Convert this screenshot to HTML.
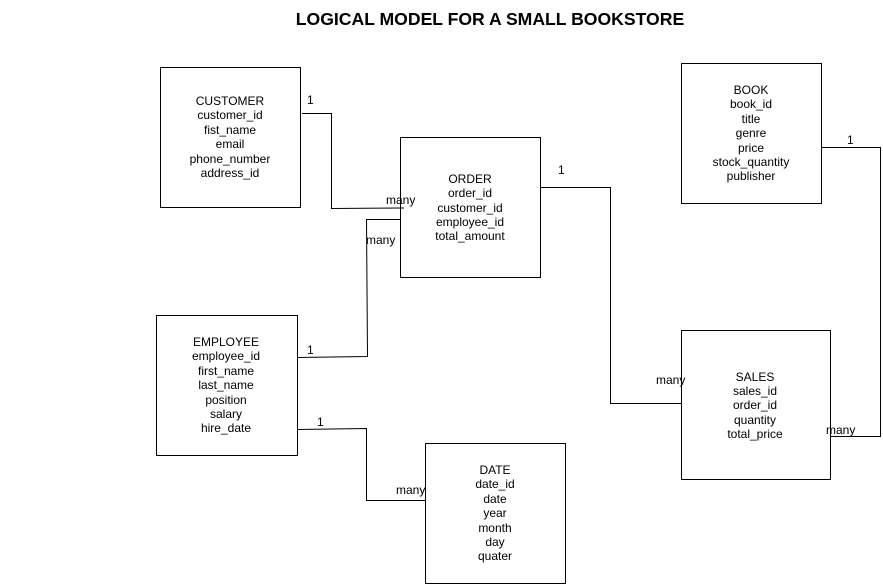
<!DOCTYPE html>
<html><head><style>
body{margin:0;background:#fff;}
svg{display:block;font-family:"Liberation Sans",Arial,sans-serif;}
</style></head><body>
<svg width="883" height="584" xmlns="http://www.w3.org/2000/svg">
<text x="490" y="25" text-anchor="middle" font-size="17.6" font-weight="bold">LOGICAL MODEL FOR A SMALL BOOKSTORE</text>
<g fill="none" stroke="#000" stroke-width="1">
<rect x="160.5" y="67.5" width="140" height="140"/>
<rect x="400.5" y="137.5" width="140" height="140"/>
<rect x="681.5" y="63.5" width="140" height="140"/>
<rect x="156.5" y="315.5" width="141" height="140"/>
<rect x="681.5" y="330.5" width="149" height="149"/>
<rect x="425.5" y="443.5" width="140" height="140"/>
<polyline points="302,113.5 331.5,113.5 331.5,208.5 404,208"/>
<polyline points="297,357.5 367.5,356.5 366.5,219.5 400,219.5"/>
<polyline points="297,429.5 366.5,428.5 366.5,500.5 426,500.5"/>
<polyline points="541,187.5 610.5,187.5 610.5,403.5 681,403.5"/>
<polyline points="822,147.5 880.5,147.5 880.5,436.5 831,436.5"/>
</g>
<g font-size="12" text-anchor="middle" fill="#000">
<text x="230" y="105">CUSTOMER</text><text x="230" y="119">customer_id</text><text x="230" y="134">fist_name</text><text x="230" y="148">email</text><text x="230" y="163">phone_number</text><text x="230" y="177">address_id</text>
<text x="470" y="183">ORDER</text><text x="470" y="197">order_id</text><text x="470" y="212">customer_id</text><text x="470" y="226">employee_id</text><text x="470" y="240">total_amount</text>
<text x="751" y="94">BOOK</text><text x="751" y="108">book_id</text><text x="751" y="123">title</text><text x="751" y="137">genre</text><text x="751" y="152">price</text><text x="751" y="166">stock_quantity</text><text x="751" y="180">publisher</text>
<text x="226" y="346">EMPLOYEE</text><text x="226" y="360">employee_id</text><text x="226" y="375">first_name</text><text x="226" y="389">last_name</text><text x="226" y="404">position</text><text x="226" y="418">salary</text><text x="226" y="432">hire_date</text>
<text x="755" y="381">SALES</text><text x="755" y="395">sales_id</text><text x="755" y="409">order_id</text><text x="755" y="424">quantity</text><text x="755" y="438">total_price</text>
<text x="495" y="474">DATE</text><text x="495" y="488">date_id</text><text x="495" y="503">date</text><text x="495" y="517">year</text><text x="495" y="532">month</text><text x="495" y="546">day</text><text x="495" y="560">quater</text>
</g>
<g font-size="12" fill="#000">
<text x="307" y="104">1</text>
<text x="386" y="204">many</text>
<text x="366" y="244">many</text>
<text x="307" y="354">1</text>
<text x="317" y="426">1</text>
<text x="396" y="494">many</text>
<text x="558" y="174">1</text>
<text x="656" y="384">many</text>
<text x="847" y="144">1</text>
<text x="826" y="434">many</text>
</g>
</svg>
</body></html>
